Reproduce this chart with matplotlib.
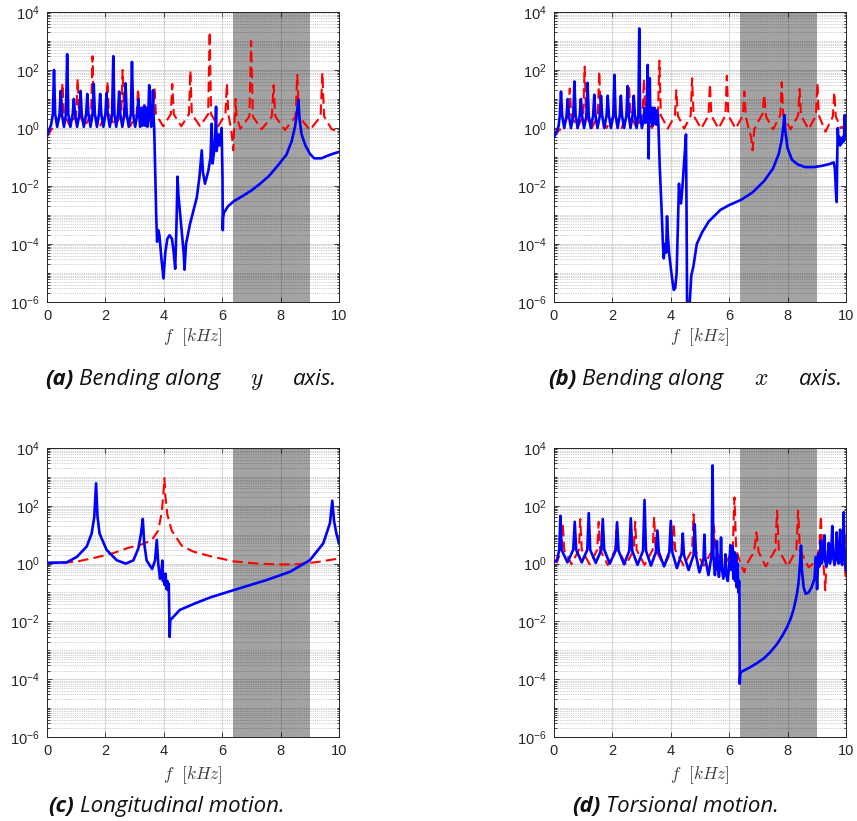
import matplotlib
matplotlib.use("Agg")
import matplotlib.pyplot as plt
import numpy as np
from matplotlib.ticker import LogLocator, NullFormatter

# ---------------- data (frequency in kHz, magnitude) ----------------
a_blue = [(0.00,0.55),(0.08,0.9),(0.14,1.3),(0.20,3),(0.24,100),(0.28,3),(0.35,1.1),(0.43,3),(0.47,19),(0.51,3),
          (0.58,1.1),(0.65,3),(0.69,350),(0.73,3),(0.80,1.1),(0.88,3),(0.92,10),(0.96,3),(1.03,1.1),(1.11,3),
          (1.15,19),(1.19,3),(1.26,1.1),(1.34,3),(1.38,15),(1.42,3),(1.49,1.1),(1.56,3),(1.60,33),(1.64,3),
          (1.71,1.1),(1.78,3),(1.82,15),(1.86,3),(1.93,1.1),(2.00,3),(2.04,16),(2.08,3),(2.15,1.1),(2.23,3),
          (2.27,300),(2.31,3),(2.37,1.1),(2.43,3),(2.47,18),(2.51,3),(2.58,1.1),(2.65,3),(2.69,35),(2.73,3),
          (2.80,1.1),(2.87,3),(2.91,190),(2.95,3),(3.02,1.1),(3.09,3),(3.13,10),(3.16,2.5),(3.19,1.1),(3.22,2),
          (3.24,5),(3.27,1.2),(3.30,2),(3.33,6),(3.36,1.2),(3.39,2),(3.41,5),(3.44,1.1),(3.47,3),(3.50,30),
          (3.53,3),(3.57,1.1),(3.60,3),(3.63,20),(3.65,2.5),(3.67,1.1),(3.70,0.05),(3.74,1e-3),(3.77,1.2e-4),
          (3.81,3e-4),(3.85,2e-4),(3.92,3e-5),(3.99,6.5e-6),(4.05,5e-5),(4.12,1.5e-4),(4.20,2e-4),(4.28,1.5e-4),
          (4.34,5e-5),(4.39,1.4e-5),(4.43,3e-4),(4.47,0.021),(4.50,5e-3),(4.56,1.1e-3),(4.63,2e-4),(4.68,5e-5),
          (4.71,1.3e-5),(4.76,1e-4),(4.90,5e-4),(5.13,4e-3),(5.22,0.02),(5.30,0.17),(5.34,0.03),(5.41,0.012),
          (5.53,0.035),(5.60,0.1),(5.64,1.4),(5.67,0.06),(5.72,0.15),(5.76,0.5),(5.79,5.4),(5.81,0.16),
          (5.85,0.35),(5.88,0.6),(5.91,0.25),(5.95,0.5),(5.98,1.0),(6.01,0.02),(6.02,3e-4),(6.03,8e-4),
          (6.06,1.2e-3),(6.20,2.0e-3),(6.40,3.0e-3),(6.70,4.5e-3),(7.00,7e-3),(7.30,0.012),(7.60,0.022),
          (7.90,0.05),(8.20,0.12),(8.38,0.35),(8.50,1.2),(8.57,4),(8.61,9.4),(8.65,2),(8.72,0.6),(8.85,0.25),
          (9.00,0.13),(9.15,0.09),(9.40,0.09),(9.60,0.11),(9.80,0.13),(10.0,0.15)]

a_red = [(0.00,0.5),(0.15,0.9),(0.30,1.15),(0.48,3),(0.53,35),(0.58,3),(0.79,1.15),(1.00,3),(1.05,50),(1.10,3),
         (1.30,1.15),(1.51,3),(1.56,300),(1.61,3),(1.81,1.15),(2.02,3),(2.07,40),(2.12,3),(2.33,1.15),(2.54,3),
         (2.59,100),(2.64,3),(2.85,1.15),(3.07,3),(3.12,23),(3.17,3),(3.40,1.15),(3.63,3),(3.68,25),(3.73,3),
         (3.98,1.15),(4.24,3),(4.29,33),(4.34,3),(4.60,1.15),(4.86,3),(4.91,95),(4.96,3),(5.24,1.15),(5.52,3),
         (5.57,2100),(5.62,3),(5.86,1.15),(6.11,3),(6.16,35),(6.21,3),(6.30,1.0),(6.36,0.3),(6.38,0.17),
         (6.41,1),(6.44,4),(6.46,10),(6.49,2.5),(6.62,0.95),(6.93,2.5),(6.99,1000),(7.05,2.5),(7.35,0.9),
         (7.70,2.5),(7.76,30),(7.82,2.5),(8.15,0.85),(8.51,2.5),(8.57,68),(8.63,2.5),(9.00,0.85),(9.37,2.5),
         (9.43,80),(9.49,2.5),(9.75,0.9),(10.0,0.78)]

b_blue = [(0.00,0.5),(0.10,0.8),(0.16,1.2),(0.20,2.7),(0.24,18),(0.28,2.7),(0.35,1.0),(0.43,2.7),(0.47,10),(0.51,2.7),
          (0.58,1.0),(0.66,2.7),(0.70,40),(0.74,2.7),(0.81,1.0),(0.88,2.7),(0.92,10),(0.96,2.7),(1.03,1.0),(1.11,2.7),
          (1.15,36),(1.19,2.7),(1.26,1.0),(1.34,2.7),(1.38,14),(1.42,2.7),(1.49,1.0),(1.57,2.7),(1.61,13),(1.65,2.7),
          (1.72,1.0),(1.80,2.7),(1.84,13),(1.88,2.7),(1.95,1.0),(2.03,2.7),(2.07,68),(2.11,2.7),(2.18,1.0),(2.25,2.7),
          (2.29,13),(2.33,2.7),(2.40,1.0),(2.48,2.7),(2.52,28),(2.56,2.7),(2.62,1.0),(2.69,2.7),(2.73,13),(2.77,2.7),
          (2.83,1.0),(2.89,3),(2.92,2700),(2.95,3),(3.01,1.0),(3.07,2),(3.10,5),(3.13,1.5),(3.17,3),(3.21,150),
          (3.23,1.0),(3.24,0.09),(3.25,1.0),(3.28,52),(3.30,2),(3.32,4),(3.34,1.5),(3.36,5),(3.38,1.2),(3.40,4),
          (3.42,1.5),(3.44,5),(3.46,1.5),(3.48,4),(3.50,1.3),(3.52,4),(3.54,1.5),(3.56,3),(3.58,1.0),(3.62,0.05),
          (3.68,2e-3),(3.73,1e-4),(3.76,3.2e-5),(3.80,1e-4),(3.84,5e-5),(3.87,9e-4),(3.90,2e-4),(3.94,5e-5),
          (4.00,1.5e-5),(4.06,5e-6),(4.10,2.6e-6),(4.15,3e-6),(4.20,1e-5),(4.25,1e-3),(4.28,0.012),(4.31,3e-3),
          (4.35,2.5e-3),(4.40,0.01),(4.45,0.05),(4.49,0.2),(4.52,0.6),(4.54,1e-3),(4.56,3e-7),(4.62,3e-7),
          (4.70,8e-6),(4.77,1.6e-5),(4.89,1e-4),(5.07,2.5e-4),(5.30,6e-4),(5.70,1.5e-3),
          (6.00,2.2e-3),(6.40,3.3e-3),(6.80,6e-3),(7.20,0.015),(7.50,0.04),(7.70,0.13),(7.80,0.4),(7.86,1.3),
          (7.89,2.8),(7.92,0.8),(8.00,0.2),(8.15,0.08),(8.35,0.055),(8.60,0.045),(8.90,0.045),(9.20,0.05),
          (9.45,0.058),(9.58,0.065),(9.62,0.04),(9.66,5e-3),(9.68,2.8e-3),(9.70,0.1),(9.72,1.0),(9.74,0.3),
          (9.77,0.5),(9.80,0.25),(9.83,0.45),(9.86,0.3),(9.90,0.5),(9.93,0.35),(9.96,2.8),(9.98,0.5),(10.0,0.45)]

b_red = [(0.00,0.5),(0.15,0.8),(0.30,1.0),(0.49,2.7),(0.54,23),(0.59,2.7),(0.80,1.0),(1.00,2.7),(1.05,130),(1.10,2.7),
         (1.30,1.0),(1.50,2.7),(1.55,90),(1.60,2.7),(1.80,1.0),(2.02,2.5),(2.06,8),(2.10,2.5),(2.31,1.0),(2.52,2.7),
         (2.57,30),(2.62,2.7),(2.83,1.0),(3.03,2.7),(3.08,50),(3.13,2.7),(3.35,1.0),(3.56,2.7),(3.61,210),(3.66,2.7),
         (3.90,0.95),(4.14,2.7),(4.19,20),(4.24,2.7),(4.46,0.95),(4.68,2.7),(4.73,52),(4.78,2.7),(5.04,0.95),
         (5.29,2.7),(5.34,33),(5.39,2.7),(5.63,0.95),(5.87,2.7),(5.92,63),(5.97,2.7),(6.22,0.95),(6.47,2.7),
         (6.52,18),(6.57,2.5),(6.66,1.0),(6.75,0.5),(6.80,0.17),(6.86,0.9),(6.98,1.6),(7.14,3),(7.20,14),
         (7.26,2.5),(7.50,0.9),(7.75,2.7),(7.80,38),(7.85,2.7),(8.10,0.9),(8.36,2.7),(8.41,22),(8.46,2.7),
         (8.72,0.9),(8.97,2.7),(9.02,36),(9.07,2.7),(9.30,0.75),(9.55,2.5),(9.60,17),(9.65,2.5),(9.82,1.0),
         (10.0,1.3)]

c_blue = [(0.00,1.07),(0.67,1.1),(1.02,1.7),(1.36,3.9),(1.53,11),(1.62,42),(1.68,600),(1.73,42),(1.80,11),
          (2.04,3),(2.39,1.3),(2.70,1.0),(2.96,1.3),(3.13,3.4),(3.22,11),(3.28,35),(3.33,5),(3.41,1.3),(3.60,0.65),
          (3.70,1.3),(3.76,6.6),(3.81,1.0),(3.87,0.3),(3.92,0.5),(3.95,1.27),(3.97,0.25),(4.00,0.4),(4.03,0.18),
          (4.06,0.45),(4.09,0.13),(4.12,0.25),(4.15,0.12),(4.17,0.2),(4.20,2.9e-3),(4.22,0.011),(4.55,0.025),
          (5.07,0.042),(5.60,0.068),(6.38,0.12),(7.52,0.27),(8.32,0.52),(9.00,1.3),(9.46,5),(9.69,25),(9.77,150),
          (9.83,30),(9.91,11),(10.0,5)]

c_red = [(0.00,1.05),(0.50,1.05),(1.07,1.2),(1.64,1.6),(2.21,2.2),(2.78,3.5),(3.24,4.6),(3.59,6.5),(3.81,14),
         (3.93,60),(3.99,300),(4.02,900),(4.05,250),(4.12,50),(4.27,14),(4.61,4.2),(5.01,2.6),(5.60,1.8),
         (6.38,1.2),(7.20,1.0),(8.00,0.93),(8.60,0.95),(9.30,1.15),(10.0,1.5)]

d_blue = [(0.00,1.2),(0.10,1.3),(0.18,3),(0.22,45),(0.26,3),(0.46,1.1),(0.66,3),(0.71,28),(0.76,3),(0.95,1.1),
          (1.14,3),(1.19,56),(1.24,3),(1.43,1.05),(1.62,3),(1.67,35),(1.72,3),(1.91,1.0),(2.11,2.8),(2.16,27),
          (2.21,2.8),(2.40,0.95),(2.58,2.8),(2.63,37),(2.68,2.8),(2.86,0.9),(3.05,2.8),(3.10,160),(3.15,2.8),
          (3.32,0.85),(3.49,2.5),(3.54,14),(3.59,2.5),(3.77,0.8),(3.95,2.5),(4.00,30),(4.05,2.5),(4.21,0.7),
          (4.37,2.2),(4.41,11),(4.45,2),(4.61,0.6),(4.78,2),(4.82,23),(4.86,2),(4.98,0.5),(5.12,1.5),(5.15,10),
          (5.18,1.5),(5.29,0.4),(5.40,2),(5.43,2500),(5.46,2),(5.51,0.4),(5.56,1.2),(5.58,6),(5.61,0.8),
          (5.65,0.35),(5.70,1.5),(5.72,8),(5.75,0.7),(5.80,0.3),(5.85,0.8),(5.87,2.1),(5.90,0.4),(5.95,0.25),
          (6.01,1.2),(6.04,4.4),(6.07,0.6),(6.10,1.0),(6.12,4),(6.14,0.3),(6.16,0.8),(6.18,2.5),(6.20,0.25),
          (6.22,0.6),(6.24,2),(6.26,0.15),(6.28,0.4),(6.30,1.0),(6.32,0.1),(6.34,0.25),(6.35,0.08),(6.36,7e-5),
          (6.38,1.5e-4),(6.41,1.8e-4),(6.72,2.6e-4),(6.95,3.6e-4),(7.18,5.2e-4),(7.40,8.5e-4),(7.63,1.6e-3),
          (7.82,3.2e-3),(7.98,6.3e-3),(8.10,0.012),(8.20,0.025),(8.27,0.05),(8.32,0.09),(8.37,0.2),(8.40,0.45),
          (8.43,1.2),(8.46,4.2),(8.49,0.6),(8.55,0.15),(8.62,0.09),(8.72,0.1),(8.82,0.15),
          (8.92,0.3),(8.95,0.8),(8.97,1.7),(8.99,0.4),(9.01,0.13),(9.03,0.5),(9.06,2.2),(9.09,0.8),(9.11,1.5),
          (9.14,6.3),(9.17,1.0),(9.20,1.4),(9.23,3),(9.26,9.6),(9.29,1.2),(9.33,0.8),(9.37,1.5),(9.41,5.2),
          (9.45,1.0),(9.49,1.8),(9.53,20),(9.57,1.5),(9.61,0.9),(9.65,2),(9.68,12),(9.71,1.5),(9.74,1.0),
          (9.77,3),(9.80,15),(9.83,1.2),(9.87,0.9),(9.90,3),(9.92,60),(9.95,3),(9.98,0.8),(10.0,0.57)]

d_red = [(0.00,1.2),(0.10,1.1),(0.25,3),(0.30,26),(0.35,3),(0.60,0.95),(0.85,3),(0.90,35),(0.95,3),(1.22,0.95),
         (1.48,3),(1.53,28),(1.58,3),(1.84,0.9),(2.10,3),(2.15,22),(2.20,3),(2.47,0.9),(2.73,3),(2.78,28),
         (2.83,3),(3.10,0.9),(3.38,3),(3.43,42),(3.48,3),(3.77,0.85),(4.05,3),(4.10,25),(4.15,3),(4.44,0.85),
         (4.73,3),(4.78,51),(4.83,3),(5.13,0.85),(5.43,3),(5.48,20),(5.53,3),(5.83,0.8),(6.12,3),(6.18,195),
         (6.24,3),(6.40,0.9),(6.52,0.5),(6.58,0.9),(6.85,2.5),(6.93,12),(7.01,2.5),(7.25,0.8),(7.58,3),(7.64,68),
         (7.70,3),(8.00,0.8),(8.30,3),(8.36,68),(8.42,3),(8.72,0.75),(8.98,1.2),(9.09,4),(9.14,45),(9.18,3),
         (9.25,0.5),(9.29,0.12),(9.33,1),(9.38,2.5),(9.41,4.4),(9.45,2),(9.70,1.0),(9.88,3),(9.94,12),(9.97,1.5),
         (9.99,0.3),(10.0,0.6)]

band = (6.36, 9.0)
x_ticks = [0, 2, 4, 6, 8, 10]
y_ticks = [1e-6, 1e-4, 1e-2, 1e0, 1e2, 1e4]
x_label = r'$f\ \ [kHz]$'

captions = [
    [("(a)", "bold"), ("Bending along", "it"), ("$y$", "math"), ("axis.", "it")],
    [("(b)", "bold"), ("Bending along", "it"), ("$x$", "math"), ("axis.", "it")],
    [("(c)", "bold"), ("Longitudinal motion.", "it")],
    [("(d)", "bold"), ("Torsional motion.", "it")],
]

# ---------------- figure ----------------
plt.rcParams['font.family'] = ['Liberation Sans', 'DejaVu Sans']
plt.rcParams['mathtext.fontset'] = 'cm'
plt.rcParams['axes.unicode_minus'] = False

W, H = 857, 821
fig = plt.figure(figsize=(W / 100, H / 100), dpi=100)

# axes boxes in pixels: left, top, right, bottom
boxes = [(47, 12, 339, 302), (554, 12, 846, 302), (47, 448, 339, 737), (554, 448, 846, 737)]
series = [(a_blue, a_red), (b_blue, b_red), (c_blue, c_red), (d_blue, d_red)]
# caption: left x, baseline y, right x (for captions containing a math symbol)
cap_pos = [(45, 385, 337), (548, 385, 843), (48, 812, None), (572, 812, None)]
xlabel_y = [337, 337, 775, 775]

dark = '#262626'
for i, ((l, t, r, b), (blue, red)) in enumerate(zip(boxes, series)):
    ax = fig.add_axes([l / W, 1 - b / H, (r - l) / W, (b - t) / H])
    ax.set_yscale('log')
    ax.set_xlim(0, 10)
    ax.set_ylim(1e-6, 1e4)
    ax.axvspan(band[0], band[1], facecolor='black', alpha=0.36, lw=0, zorder=1.5)
    rf, rv = zip(*red)
    bf, bv = zip(*blue)
    ax.plot(rf, rv, color='#ff0000', lw=1.5, ls=(0, (5, 2.5)), zorder=3)
    ax.plot(bf, bv, color='#0000ff', lw=1.9, zorder=4)
    ax.set_xticks(x_ticks)
    ax.set_yticks(y_ticks)
    ax.yaxis.set_minor_locator(LogLocator(base=10, subs=np.arange(1, 10), numticks=100))
    ax.yaxis.set_minor_formatter(NullFormatter())
    ax.set_axisbelow(True)
    ax.grid(True, which='major', color='#d6d6d6', lw=0.7)
    ax.grid(True, which='minor', axis='y', color='#bdbdbd', lw=0.6, ls=(0, (1, 1.2)))
    ax.tick_params(which='both', direction='in', top=True, right=True, colors=dark,
                   labelsize=10.5, labelcolor=dark, width=0.6)
    ax.tick_params(which='major', length=3.5, pad=5)
    ax.tick_params(which='minor', length=1.8)
    for s in ax.spines.values():
        s.set_color(dark)
        s.set_linewidth(0.7)
    fig.text(((l + r) / 2) / W, 1 - xlabel_y[i] / H, x_label, ha='center', va='center',
             fontsize=12.5, color='#404040')

# captions
renderer = fig.canvas.get_renderer()
cap_font = 'Open Sans'
cap_size = 16

def measure(txt, **kw):
    tt = fig.text(0, 0, txt, **kw)
    w = tt.get_window_extent(renderer).width
    tt.remove()
    return w

sp = measure("a a", family=cap_font, style='italic', fontsize=cap_size) - \
     measure("aa", family=cap_font, style='italic', fontsize=cap_size)

def style(kind):
    if kind == "bold":
        kw = dict(family=cap_font, style='italic', weight='bold', fontsize=cap_size)
    elif kind == "it":
        kw = dict(family=cap_font, style='italic', fontsize=cap_size)
    else:
        kw = dict(fontsize=cap_size + 1)
    kw['color'] = '#111111'
    return kw

for parts, (x0, y0, x_end) in zip(captions, cap_pos):
    if x_end is None:
        x = x0
        for txt, kind in parts:
            tt = fig.text(x / W, 1 - y0 / H, txt, ha='left', va='baseline', **style(kind))
            x += tt.get_window_extent(renderer).width + sp
    else:
        # "(x)" + "Bending along" from the left, "axis." ending at x_end, symbol centred between
        x = x0
        for txt, kind in parts[:2]:
            tt = fig.text(x / W, 1 - y0 / H, txt, ha='left', va='baseline', **style(kind))
            x += tt.get_window_extent(renderer).width + sp
        last = fig.text(x_end / W, 1 - y0 / H, parts[3][0], ha='right', va='baseline', **style(parts[3][1]))
        left_last = last.get_window_extent(renderer).x0
        fig.text(((x - sp) + left_last) / 2 / W, 1 - y0 / H, parts[2][0], ha='center', va='baseline',
                 **style(parts[2][1]))

fig.savefig('out.png', dpi=100)
